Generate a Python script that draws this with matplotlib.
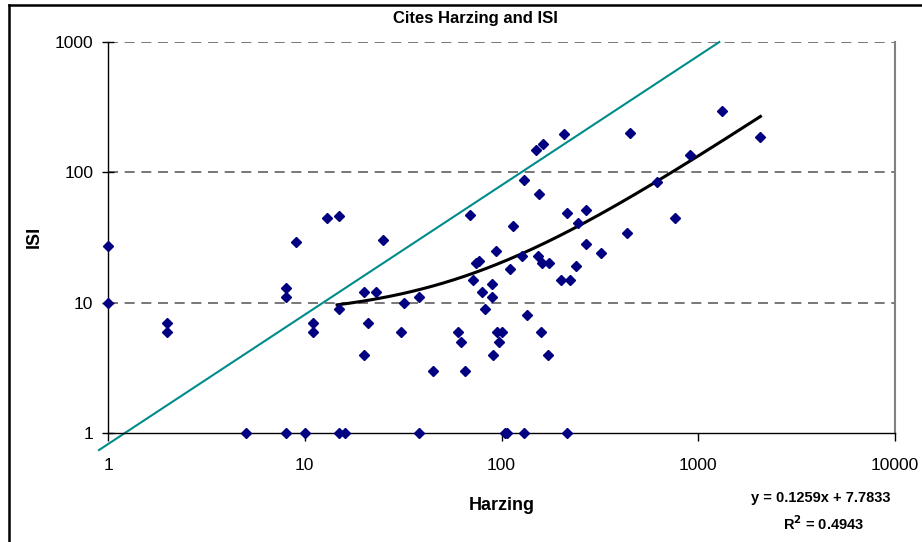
import numpy as np
import matplotlib
matplotlib.use("Agg")
import matplotlib.pyplot as plt
from matplotlib.lines import Line2D
from matplotlib.ticker import FixedLocator, NullLocator

plt.rcParams['font.family'] = ['Liberation Sans', 'DejaVu Sans']

# cites per paper
harzing = [1, 1, 2, 2, 5, 8, 8, 8, 9, 10, 11, 11, 13, 15, 15, 15, 16, 20, 20, 21,
           23, 25, 31, 32, 38, 38, 45, 60, 62, 65, 69, 72, 74, 77, 80, 82, 89, 90,
           91, 94, 95, 100, 97, 104, 107, 110, 114, 127, 130, 130, 134, 149, 163,
           154, 156, 159, 161, 172, 174, 200, 207, 214, 214, 224, 238, 244, 268,
           268, 320, 433, 450, 617, 762, 908, 1320, 2060]
isi = [27, 10, 7, 6, 1, 13, 11, 1, 29, 1, 7, 6, 45, 46, 9, 1, 1, 12, 4, 7,
       12, 30, 6, 10, 11, 1, 3, 6, 5, 3, 47, 15, 20, 21, 12, 9, 14, 11,
       4, 25, 6, 6, 5, 1, 1, 18, 39, 23, 87, 1, 8, 148, 165,
       23, 68, 6, 20, 4, 20, 15, 196, 49, 1, 15, 19, 41, 51,
       28, 24, 34, 200, 85, 45, 136, 295, 188]

# linear trendline as given on the chart
slope, intercept = 0.1259, 7.7833
trend_range = [14.6, 2070]

# reference line (teal)
ref_x = [0.9, 1280]
ref_y = [0.74, 1000]

fig = plt.figure(figsize=(9.22, 5.42), dpi=100)
ax = fig.add_axes([108 / 922, 1 - 433 / 542, (895 - 108) / 922, (433 - 42) / 542])

ax.set_xscale('log')
ax.set_yscale('log')
ax.set_xlim(1, 10000)
ax.set_ylim(1, 1000)

ax.plot(ref_x, ref_y, color='#008B8B', lw=1.5, clip_on=False, zorder=2)

tx = np.logspace(np.log10(trend_range[0]), np.log10(trend_range[1]), 200)
ax.plot(tx, slope * tx + intercept, color='black', lw=2.2, zorder=4)

ax.plot(harzing, isi, 'D', color='#000080', ms=5.5, mec='#000080',
        clip_on=False, zorder=5)

# horizontal dashed gridlines
for yv in [10, 100, 1000]:
    ax.axhline(yv, color='#606060', lw=1.2, ls=(0, (6, 4)), zorder=1)

ax.xaxis.set_major_locator(FixedLocator([1, 10, 100, 1000, 10000]))
ax.yaxis.set_major_locator(FixedLocator([1, 10, 100, 1000]))
ax.xaxis.set_minor_locator(NullLocator())
ax.yaxis.set_minor_locator(NullLocator())
ax.set_xticklabels(['1', '10', '100', '1000', '10000'])
ax.set_yticklabels(['1', '10', '100', '1000'])
ax.tick_params(axis='y', direction='inout', length=9, width=1, labelsize=12.5, pad=6)
ax.tick_params(axis='x', direction='out', length=6, width=1, labelsize=12.5, pad=12)

ax.spines['top'].set_visible(False)
ax.spines['right'].set_color('#808080')
ax.spines['right'].set_linewidth(1.5)
ax.spines['left'].set_linewidth(1)
ax.spines['bottom'].set_linewidth(1)

fig.text(475 / 922, 1 - 19 / 542, 'Cites Harzing and ISI', ha='center', va='center',
         fontsize=12, fontweight='bold')
fig.text(502 / 922, 1 - 506 / 542, 'Harzing', ha='center', va='center',
         fontsize=13, fontweight='bold')
fig.text(34 / 922, 1 - 237 / 542, 'ISI', ha='center', va='center', rotation=90,
         fontsize=13, fontweight='bold')
fig.text(821 / 922, 1 - 498 / 542, 'y = 0.1259x + 7.7833', ha='center', va='center',
         fontsize=10.5, fontweight='bold')
fig.text(824 / 922, 1 - 524 / 542, r'R$^\mathbf{2}$ = 0.4943', ha='center', va='center',
         fontsize=10.5, fontweight='bold')

# chart border (left and top visible)
fig.add_artist(Line2D([8.5 / 922, 8.5 / 922], [0, 1 - 4.5 / 542], color='black', lw=1.8,
                      transform=fig.transFigure))
fig.add_artist(Line2D([8.5 / 922, 1], [1 - 4.5 / 542, 1 - 4.5 / 542], color='black', lw=1.8,
                      transform=fig.transFigure))

fig.savefig('out.png', dpi=100)
